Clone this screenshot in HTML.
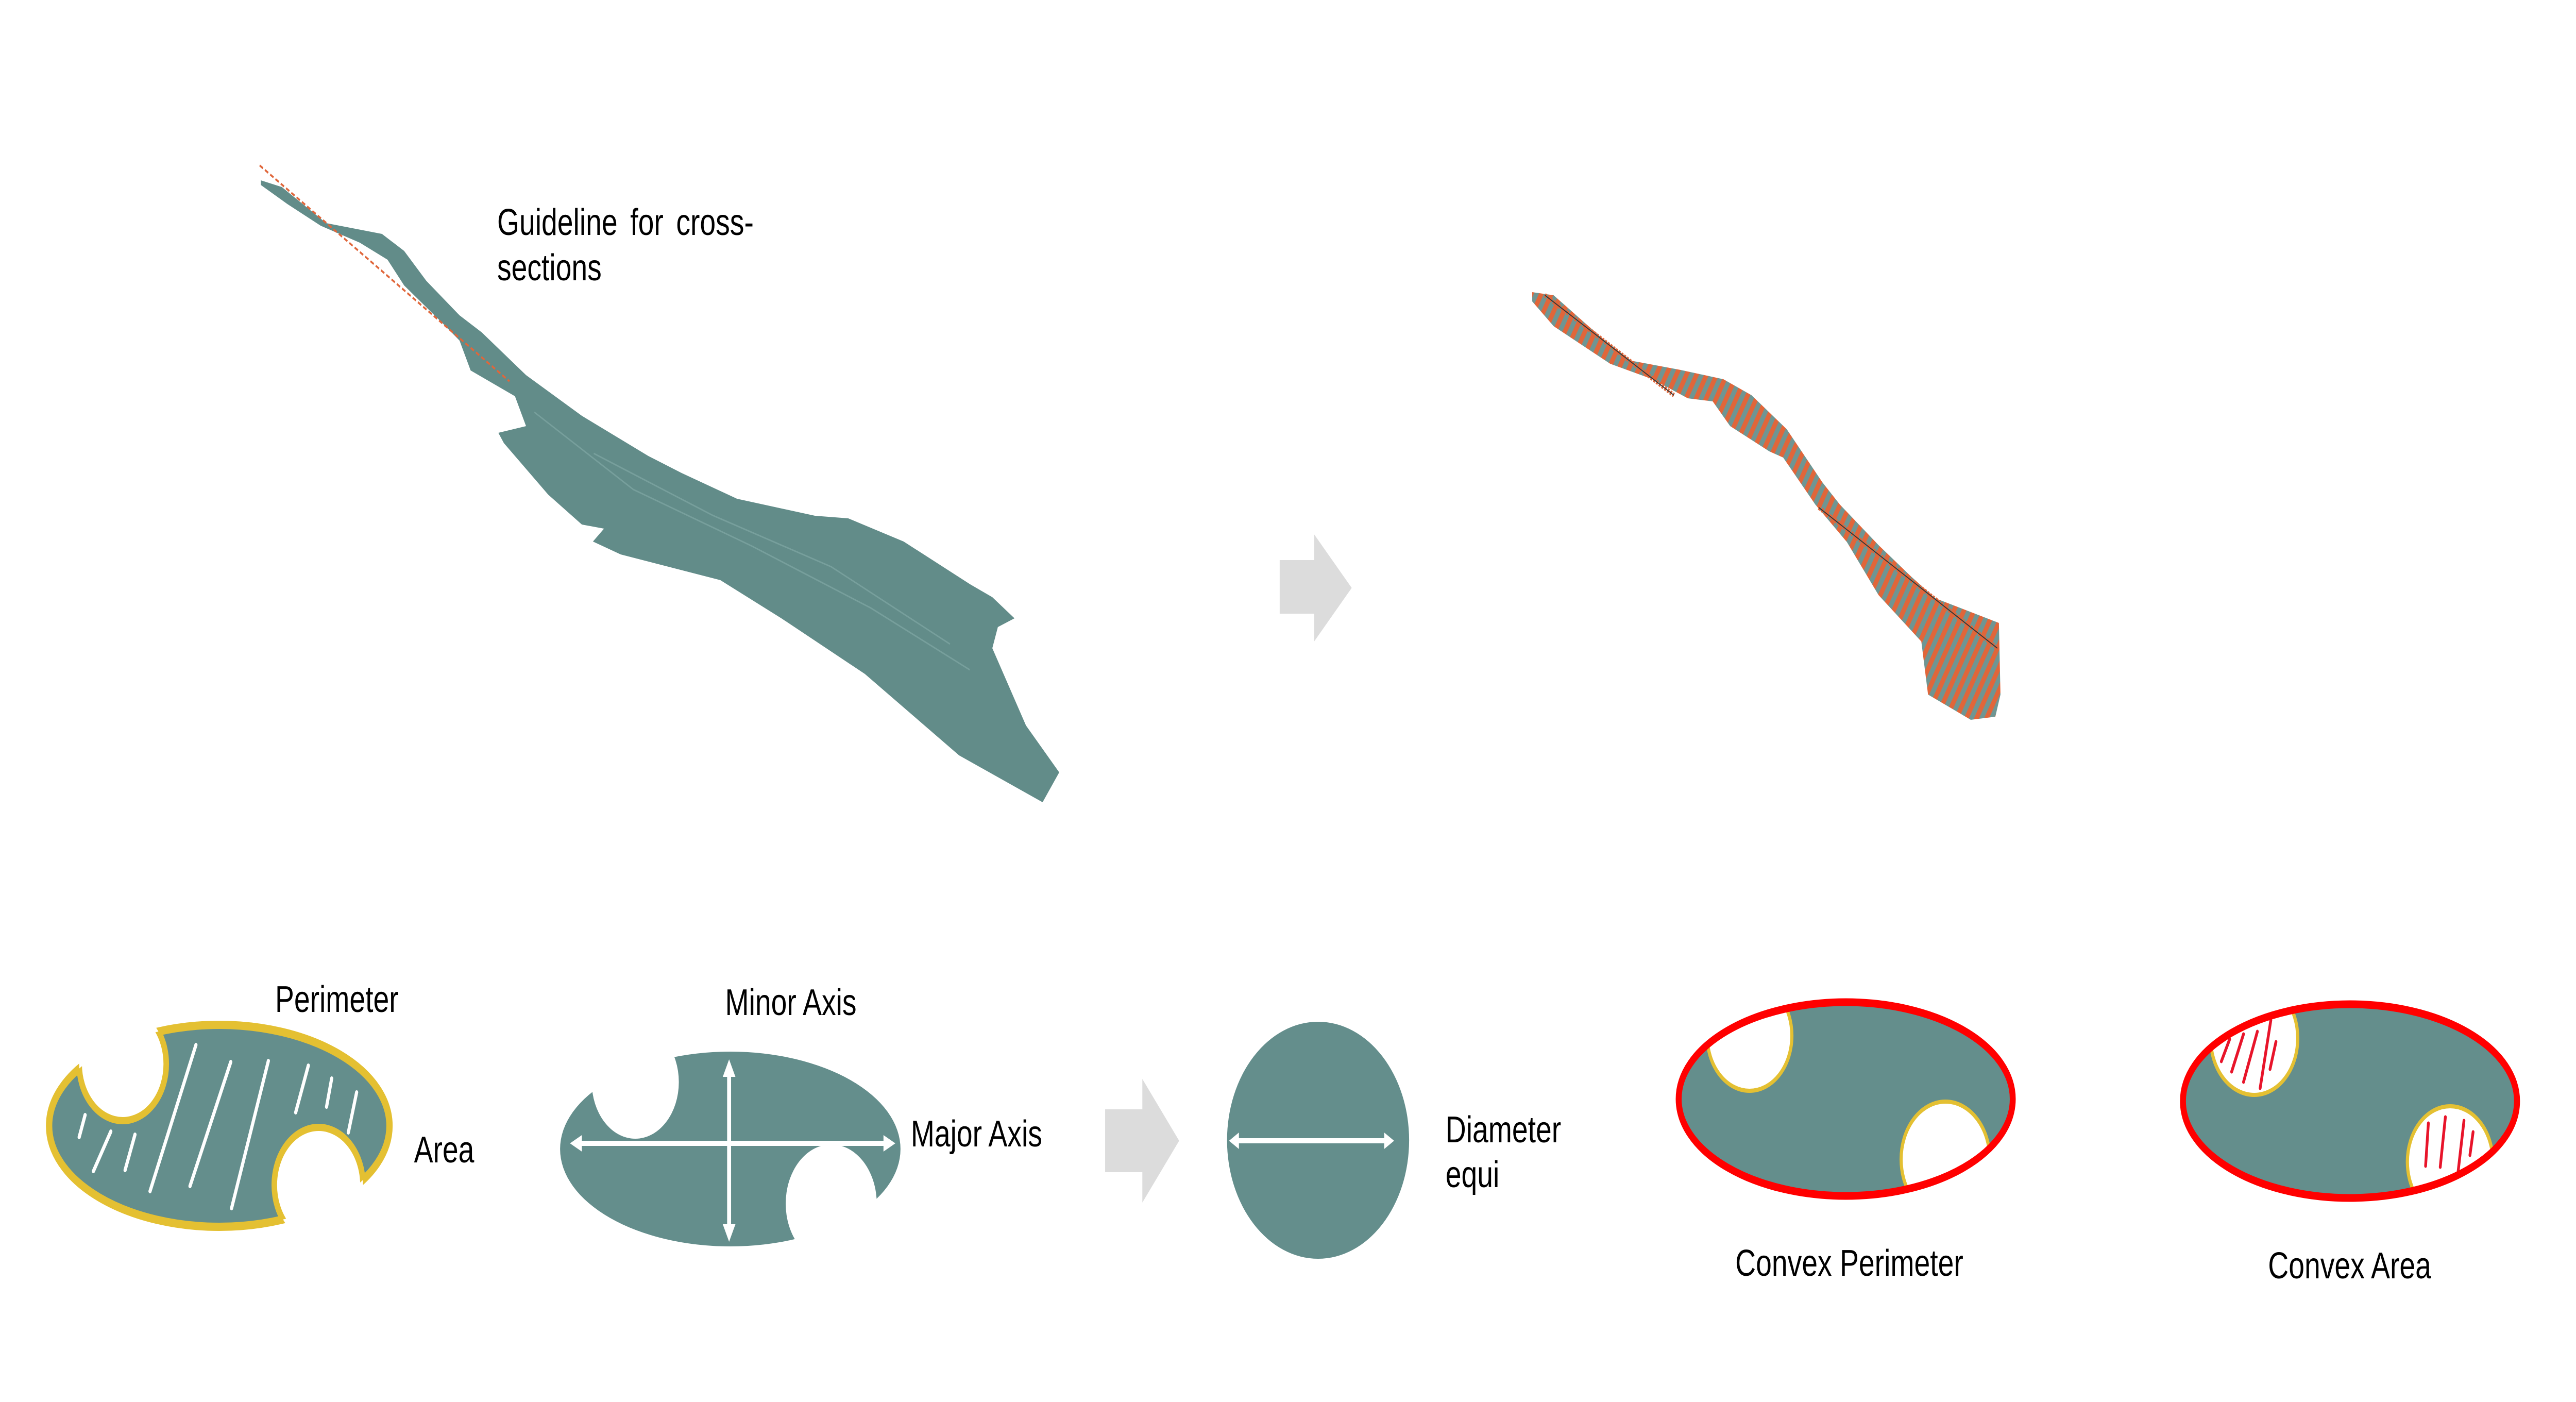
<!DOCTYPE html>
<html><head><meta charset="utf-8"><style>
html,body{margin:0;padding:0;background:#fff;width:100%;height:100%;overflow:hidden;}
svg{display:block;width:100vw;height:100vh;}
text{font-family:"Liberation Sans",Arial,sans-serif;font-size:72px;fill:#000;}
</style></head><body>
<svg viewBox="0 0 6508 2721" preserveAspectRatio="none" xmlns="http://www.w3.org/2000/svg">
<defs>
<pattern id="hatch" width="22" height="22" patternUnits="userSpaceOnUse" patternTransform="rotate(30)">
<rect width="22" height="22" fill="#6f9592"/>
<rect width="11" height="22" fill="#e0663a"/>
</pattern>
<clipPath id="clipA"><ellipse cx="554" cy="2185" rx="430" ry="196"/></clipPath>
<clipPath id="clipCP"><ellipse cx="4663" cy="2133" rx="422" ry="188"/></clipPath>
<clipPath id="clipCA"><ellipse cx="5937" cy="2137" rx="422" ry="188"/></clipPath>
</defs>

<g>
<polygon fill="#628c89" points="659,350 712,363 824,433 965,454 1021,487 1077,545 1161,612 1217,645 1329,728 1470,807 1638,885 1722,918 1862,968 2059,1001 2143,1006 2283,1051 2451,1134 2507,1159 2563,1200 2521,1217 2507,1258 2592,1408 2676,1499 2634,1557 2423,1466 2185,1308 1974,1200 1820,1126 1568,1076 1498,1051 1526,1026 1470,1018 1385,960 1273,860 1259,840 1329,827 1301,769 1189,719 1161,661 1119,628 1021,554 979,504 909,471 810,438 726,396 659,359"/>
<polyline fill="none" stroke="#86aba8" stroke-width="3" opacity="0.6" points="1350,800 1600,950 1900,1060 2200,1180 2450,1300"/>
<polyline fill="none" stroke="#86aba8" stroke-width="3" opacity="0.6" points="1500,880 1800,1000 2100,1100 2400,1250"/>
</g>
<line x1="656" y1="321" x2="1287" y2="740" stroke="#e0663a" stroke-width="4" stroke-dasharray="10,6"/>
<text x="1256" y="456" word-spacing="12">Guideline for cross-</text>
<text x="1256" y="544">sections</text>

<polygon fill="#dcdcdc" points="3233,1087 3320,1087 3320,1037 3415,1141 3320,1245 3320,1191 3233,1191"/>

<g>
<polygon fill="url(#hatch)" points="3871,567 3925,573 4050,658 4121,700 4246,718 4354,736 4425,767 4514,833 4604,936 4648,979 4746,1058 4827,1118 4889,1161 5050,1209 5054,1348 5041,1391 4979,1397 4871,1348 4854,1245 4746,1155 4666,1052 4586,979 4505,888 4470,876 4371,827 4327,779 4264,773 4175,736 4068,706 3925,633 3871,585"/>
<line x1="3903" y1="573" x2="4229" y2="767" stroke="#e0663a" stroke-width="9" stroke-dasharray="5,3"/>
<line x1="4595" y1="985" x2="5046" y2="1258" stroke="#e0663a" stroke-width="9" stroke-dasharray="5,3"/>
<line x1="3903" y1="573" x2="4229" y2="767" stroke="#333" stroke-width="2"/>
<line x1="4595" y1="985" x2="5046" y2="1258" stroke="#333" stroke-width="2"/>
</g>

<g>
<ellipse cx="554" cy="2185" rx="430" ry="196" fill="#648e8c" stroke="#e4c032" stroke-width="16"/>
<circle cx="310" cy="2065" r="110" fill="#fff"/>
<circle cx="805" cy="2300" r="112" fill="#fff"/>
<g clip-path="url(#clipA)" fill="none" stroke="#e4c032" stroke-width="14">
<circle cx="310" cy="2065" r="110"/><circle cx="805" cy="2300" r="112"/></g>
<g stroke="#fff" stroke-width="8" stroke-linecap="round" fill="none">
<line x1="495" y1="2028" x2="379" y2="2312"/><line x1="583" y1="2061" x2="480" y2="2302"/>
<line x1="678" y1="2059" x2="585" y2="2345"/><line x1="779" y1="2068" x2="747" y2="2159"/>
<line x1="838" y1="2093" x2="825" y2="2148"/><line x1="901" y1="2120" x2="880" y2="2198"/>
<line x1="215" y1="2164" x2="200" y2="2207"/><line x1="280" y1="2196" x2="236" y2="2273"/>
<line x1="341" y1="2202" x2="316" y2="2271"/></g>
</g>
<text x="695" y="1964">Perimeter</text>
<text x="1046" y="2256">Area</text>

<g>
<ellipse cx="1845" cy="2230" rx="430" ry="189" fill="#648e8c"/>
<circle cx="1605" cy="2100" r="110" fill="#fff"/>
<circle cx="2100" cy="2336" r="115" fill="#fff"/>
<g stroke="#fff" stroke-width="10" fill="#fff">
<line x1="1465" y1="2219" x2="2237" y2="2219"/>
<line x1="1842" y1="2085" x2="1842" y2="2380"/>
<polygon stroke="none" points="1440,2219 1470,2203 1470,2235"/>
<polygon stroke="none" points="2262,2219 2232,2203 2232,2235"/>
<polygon stroke="none" points="1842,2056 1826,2090 1858,2090"/>
<polygon stroke="none" points="1842,2410 1826,2376 1858,2376"/>
</g></g>
<text x="1832" y="1970">Minor Axis</text>
<text x="2301" y="2225">Major Axis</text>

<polygon fill="#dcdcdc" points="2792,2153 2886,2153 2886,2094 2979,2214 2886,2334 2886,2275 2792,2275"/>

<g>
<circle cx="3330" cy="2213" r="230" fill="#648e8c"/>
<line x1="3125" y1="2214" x2="3500" y2="2214" stroke="#fff" stroke-width="10"/>
<polygon fill="#fff" points="3105,2214 3130,2198 3130,2230"/>
<polygon fill="#fff" points="3522,2214 3497,2198 3497,2230"/>
</g>
<text x="3652" y="2217">Diameter</text>
<text x="3652" y="2304">equi</text>

<g>
<ellipse cx="4663" cy="2133" rx="422" ry="188" fill="#648e8c"/>
<g clip-path="url(#clipCP)"><circle cx="4420" cy="2010" r="107" fill="#fff" stroke="#e4c032" stroke-width="8"/>
<circle cx="4915" cy="2250" r="112" fill="#fff" stroke="#e4c032" stroke-width="8"/></g>
<ellipse cx="4663" cy="2133" rx="422" ry="188" fill="none" stroke="#ff0000" stroke-width="15"/>
</g>
<text x="4384" y="2476">Convex Perimeter</text>

<g>
<ellipse cx="5937" cy="2137" rx="422" ry="188" fill="#648e8c"/>
<g clip-path="url(#clipCA)"><circle cx="5695" cy="2015" r="110" fill="#fff" stroke="#e4c032" stroke-width="8"/>
<circle cx="6190" cy="2255" r="108" fill="#fff" stroke="#e4c032" stroke-width="8"/></g>
<g stroke="#e8142a" stroke-width="7" stroke-linecap="round">
<line x1="5633" y1="2017" x2="5612" y2="2060"/><line x1="5668" y1="2007" x2="5638" y2="2080"/>
<line x1="5703" y1="2002" x2="5668" y2="2100"/><line x1="5737" y1="1980" x2="5710" y2="2112"/>
<line x1="5750" y1="2022" x2="5735" y2="2075"/>
<line x1="6135" y1="2180" x2="6128" y2="2263"/><line x1="6178" y1="2168" x2="6165" y2="2265"/>
<line x1="6225" y1="2175" x2="6210" y2="2275"/><line x1="6248" y1="2197" x2="6240" y2="2242"/>
</g>
<ellipse cx="5937" cy="2137" rx="422" ry="188" fill="none" stroke="#ff0000" stroke-width="15"/>
</g>
<text x="5730" y="2481">Convex Area</text>
</svg>
</body></html>
